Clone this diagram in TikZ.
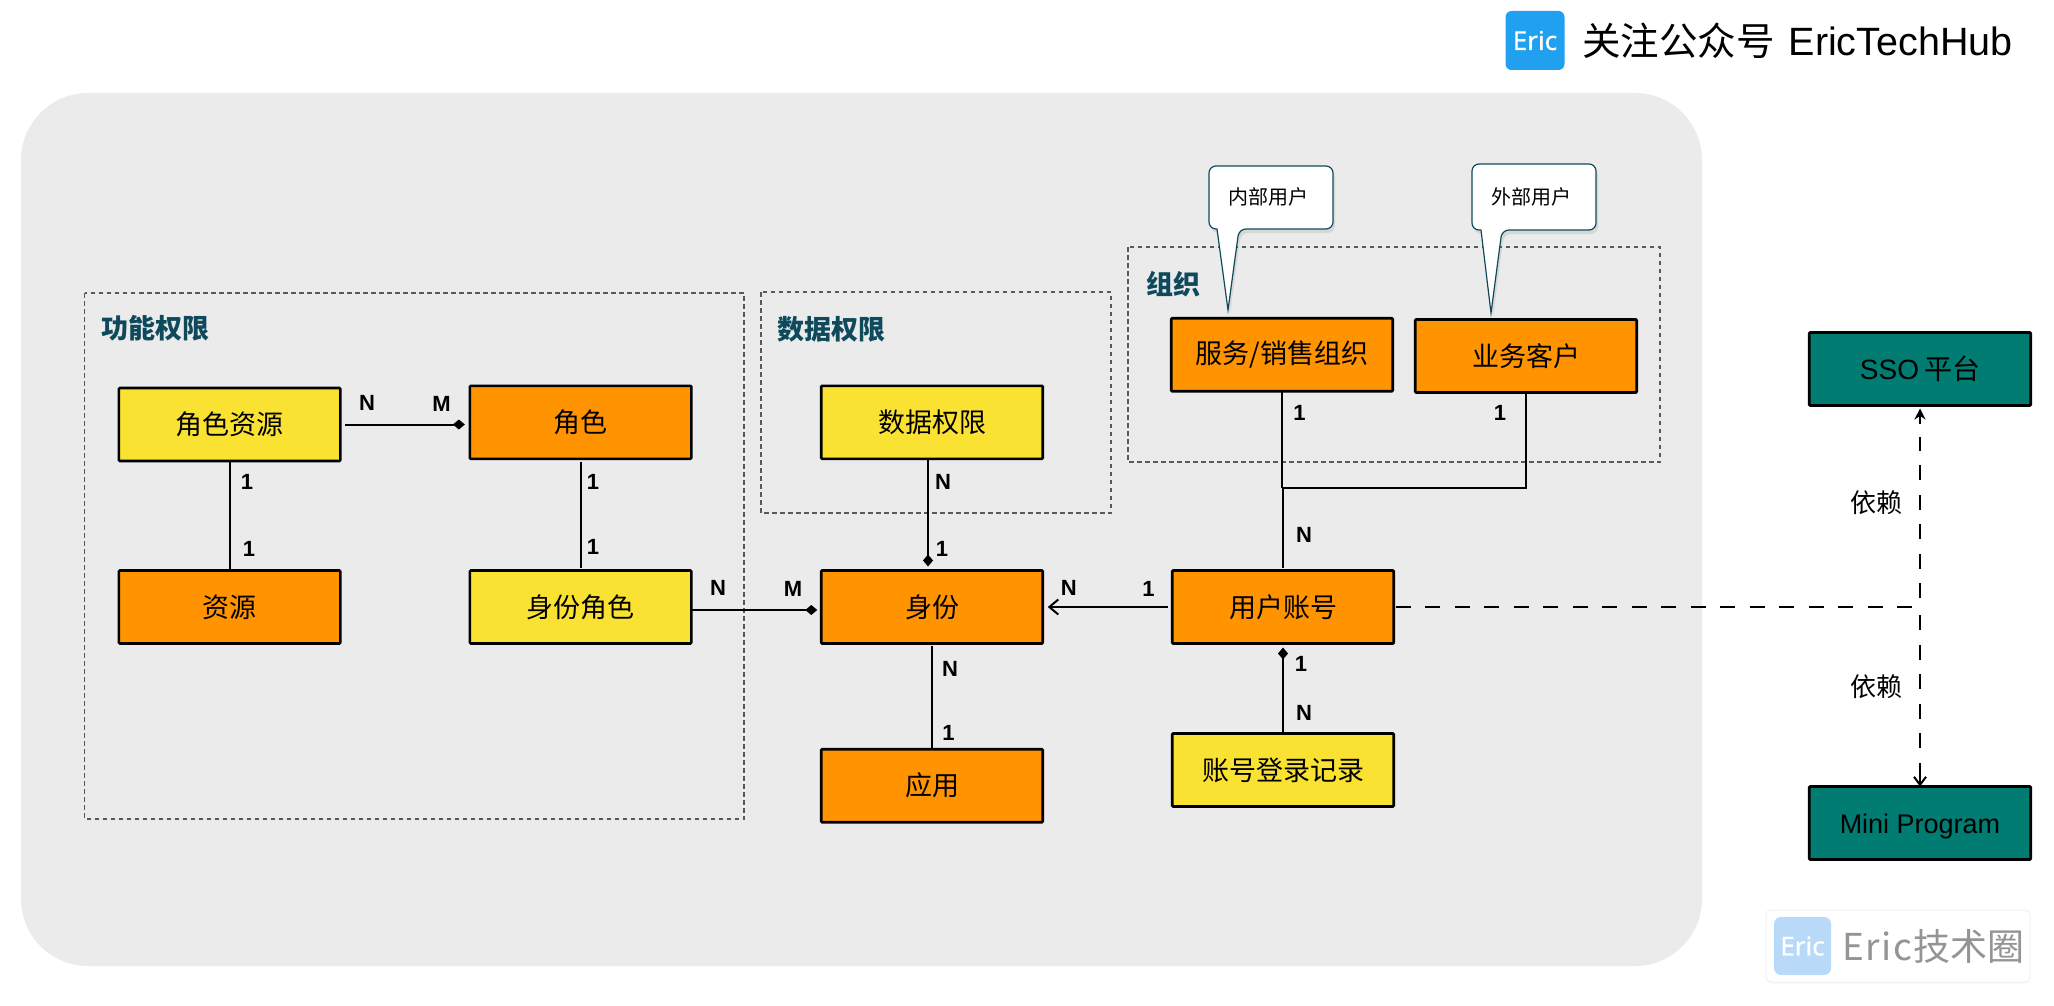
\documentclass[tikz,border=0pt]{standalone}
\usepackage{fontspec}
\setmainfont{Liberation Sans}
\newfontfamily\cjk{Noto Sans CJK SC}
\newfontfamily\badgefont[FakeBold=0.6]{Noto Sans}
\usetikzlibrary{arrows.meta,shadows}
\definecolor{bgc}{HTML}{EBEBEB}
\definecolor{orangec}{HTML}{FF9300}
\definecolor{yellowc}{HTML}{FAE232}
\definecolor{tealc}{HTML}{007C72}
\definecolor{titlec}{HTML}{0E4A5C}
\definecolor{badgec}{HTML}{22A0F0}
\definecolor{badgelt}{HTML}{B8D9F8}
\tikzset{
  ent/.style={draw=black,line width=2.6pt,rounded corners=1pt,minimum width=221.5pt,minimum height=73pt,inner sep=0pt,outer sep=0pt,font=\fontsize{27}{30}\selectfont\cjk,text=black},
  orangebox/.style={ent,fill=orangec},
  yellowbox/.style={ent,fill=yellowc},
  tealbox/.style={ent,fill=tealc},
  card/.style={rectangle,draw=none,inner sep=0pt,outer sep=0pt},
  mult/.style={inner sep=0pt,font=\fontsize{22}{24}\selectfont\bfseries},
  sectitle/.style={inner sep=0pt,font=\fontsize{27}{30}\selectfont\cjk\bfseries,text=titlec},
  groupbox/.style={draw=black!65,line width=1.5pt,dash pattern=on 4.5pt off 3.5pt},
  conn/.style={draw=black,line width=2pt},
  dia/.style={-{Diamond[length=12pt,width=10pt]}},
  dep/.style={draw=black,line width=2pt,dash pattern=on 15pt off 14.5pt},
  callout/.style={draw=titlec,line width=1.2pt,fill=white,rounded corners=7pt,drop shadow={shadow xshift=2pt,shadow yshift=-4pt,opacity=0.18}},
  calltext/.style={inner sep=0pt,font=\fontsize{20}{24}\selectfont\cjk},
  deplabel/.style={inner sep=0pt,font=\fontsize{26}{30}\selectfont\cjk}
}
\begin{document}
\begin{tikzpicture}[x=1pt,y=-1pt]
\useasboundingbox (0,0) rectangle (2054,1006);
% background panel
\fill[bgc,rounded corners=67pt] (21,93) rectangle (1702,966);
% group boxes
\draw[groupbox] (84.5,293) rectangle (744,819);
\draw[groupbox] (761,292) rectangle (1111,513);
\draw[groupbox] (1128,247) rectangle (1660,462);
\node[sectitle] (t1) at (155.5,328) {功能权限};
\node[sectitle] (t2) at (831,329) {数据权限};
\node[sectitle] (t3) at (1173,284) {组织};
% entity boxes
\node[yellowbox] (rr) at (229.6,424.5) {角色资源};
\node[orangebox] (res) at (229.6,607) {资源};
\node[orangebox] (role) at (580.6,422.3) {角色};
\node[yellowbox] (idrole) at (580.6,607) {身份角色};
\node[yellowbox] (dp) at (932,422.3) {数据权限};
\node[orangebox] (id) at (932,607) {身份};
\node[orangebox] (app) at (932,785.7) {应用};
\node[orangebox] (acc) at (1283,607) {用户账号};
\node[yellowbox] (log) at (1283,770) {账号登录记录};
\node[orangebox] (org) at (1282,354.7) {服务/销售组织};
\node[orangebox] (cus) at (1526,356) {业务客户};
\node[tealbox] (sso) at (1920,369) {\fontsize{28}{30}\selectfont\rmfamily SSO\hspace{5pt}{\cjk 平台}};
\node[tealbox,text height=20.6pt,text depth=0pt] (mini) at (1920,823) {\fontsize{27}{30}\selectfont\rmfamily Mini Program};
% connectors
\draw[conn,dia] ([xshift=5pt]rr.east) -- ([xshift=-5pt]role.west |- rr.east);
\draw[conn] (rr.south) -- (res.north);
\draw[conn] ([yshift=-3pt]role.south) -- ([yshift=3pt]idrole.north);
\draw[conn,dia] ([yshift=-3pt]idrole.east) -- ([yshift=-3pt,xshift=-4pt]id.west);
\draw[conn,dia] ([xshift=-4pt]dp.south) -- ([xshift=-4pt,yshift=4pt]id.north);
\draw[conn] ([yshift=-2pt]id.south) -- (app.north);
\draw[conn,-{Straight Barb[length=9pt,width=15pt,line width=2pt]}] ([xshift=-4pt]acc.west) -- ([xshift=5pt]id.east);
\draw[conn,dia] (log.north) -- ([yshift=-4pt]acc.south);
\coordinate (jct) at (1282,488);
\draw[conn] (org.south) -- (jct);
\draw[conn] (cus.south) |- (jct);
\draw[conn] ([yshift=3pt]acc.north) -- (acc.north |- jct);
% dependency lines
\coordinate (depw) at (1914,607);
\coordinate (depup) at (1920,598);
\coordinate (depdn) at (1920,615);
\draw[dep] ([xshift=2pt]acc.east) -- (depw);
\draw[dep] (depup) -- (1920,437);
\draw[dep] (depdn) -- (1920,750);
\draw[draw=black,line width=2pt,-{Stealth[length=11pt,width=11pt]}] (1920,424) -- ([yshift=-3pt]sso.south);
\draw[draw=black,line width=2pt,-{Straight Barb[length=8pt,width=12pt,line width=2pt]}] (1920,763) -- (mini.north);
\node[deplabel] (d1) at (1876,503) {依赖};
\node[deplabel] (d2) at (1876,687) {依赖};
% multiplicities
\node[mult] (m1) at (367,403) {N};
\node[mult] (m2) at (441.5,404) {M};
\node[mult] (m3) at (247,482) {1};
\node[mult] (m4) at (249,549) {1};
\node[mult] (m5) at (593,482) {1};
\node[mult] (m6) at (593,547) {1};
\node[mult] (m7) at (718,588) {N};
\node[mult] (m8) at (793,589) {M};
\node[mult] (m9) at (943,482) {N};
\node[mult] (m10) at (942,549) {1};
\node[mult] (m11) at (950,669) {N};
\node[mult] (m12) at (948.6,733) {1};
\node[mult] (m13) at (1068.7,588) {N};
\node[mult] (m14) at (1148.6,589) {1};
\node[mult] (m15) at (1301,664) {1};
\node[mult] (m16) at (1304,713) {N};
\node[mult] (m17) at (1304,535) {N};
\node[mult] (m18) at (1299.5,413) {1};
\node[mult] (m19) at (1500,413) {1};
% callouts
\draw[callout] (1209,166) -- (1333,166) -- (1333,229) -- (1239,229) [rounded corners=0pt] -- (1228,310) -- (1217,229) [rounded corners=7pt] -- (1209,229) -- cycle;
\node[calltext] (c1) at (1268,197) {内部用户};
\draw[callout] (1472,164) -- (1596,164) -- (1596,230) -- (1502,230) [rounded corners=0pt] -- (1491,313) -- (1481,230) [rounded corners=7pt] -- (1472,230) -- cycle;
\node[calltext] (c2) at (1531,197) {外部用户};
% top badge
\node[card,fill=badgec,minimum width=59pt,minimum height=59pt,rounded corners=6pt,text=white,font=\fontsize{26}{30}\selectfont\badgefont] (b1) at (1535,40.5) {Eric};
\node[inner sep=0pt,anchor=west,font=\fontsize{38.5}{44}\selectfont] (b2) at (1582,41) {{\cjk 关注公众号}\hspace{14pt}\fontsize{39.5}{44}\selectfont EricTechHub};
% bottom watermark
\node[card,fill=white,draw=black!5,line width=1pt,minimum width=264pt,minimum height=72pt,rounded corners=5pt,drop shadow={shadow xshift=0pt,shadow yshift=-1.5pt,opacity=0.08}] (w0) at (1898,946) {};
\node[card,fill=badgelt,minimum width=57pt,minimum height=58pt,rounded corners=7pt,text=white,font=\fontsize{26}{30}\selectfont\badgefont] (w1) at (1802.5,946) {Eric};
\node[inner sep=0pt,anchor=west,text=black!42,font=\fontsize{37}{40}\selectfont\cjk] (w2) at (1842,946) {E\hspace{1.5pt}r\hspace{1.5pt}i\hspace{1.5pt}c\hspace{1.5pt}技术圈};
\end{tikzpicture}
\end{document}
